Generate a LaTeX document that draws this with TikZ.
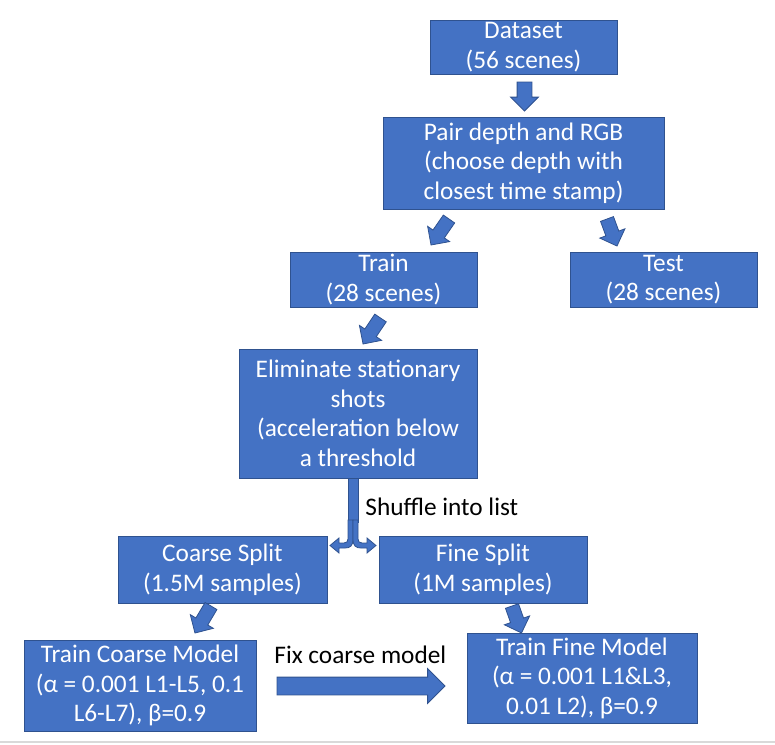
\documentclass[tikz,border=0pt]{standalone}
\usepackage{fontspec}
\setmainfont{Carlito}
\usetikzlibrary{shapes.arrows}
\definecolor{bfill}{HTML}{4472C4}
\definecolor{bdr}{HTML}{2F528F}
\begin{document}
\begin{tikzpicture}[x=1pt,y=-1pt,line width=0.8pt,
	box/.style={draw=bdr,fill=bfill,text=white,align=center,inner sep=0pt,outer sep=0pt,font=\fontsize{25.3}{29.5}\selectfont},
	barrow/.style={single arrow,draw=bdr,fill=bfill,inner xsep=0pt,inner ysep=6.5pt,outer sep=0pt,single arrow head extend=6.5pt,single arrow tip angle=90,anchor=tail},
	lbl/.style={font=\fontsize{25.3}{29.5}\selectfont,inner sep=0pt,anchor=base west}]
				\useasboundingbox (0,0) rectangle (775,744);
				\draw[color=black!15,line width=1.5pt] (0,742)--(775,742);
				% boxes
				\node[box,minimum width=187pt,minimum height=54pt] (dataset) at (523.5,47) {Dataset\\(56 scenes)};
				\node[box,minimum width=281pt,minimum height=92pt] (pair) at (523.5,163) {Pair depth and RGB\\(choose depth with\\closest time stamp)};
				\node[box,minimum width=187pt,minimum height=55pt] (train) at (383.5,279.5) {Train\\(28 scenes)};
				\node[box,minimum width=187pt,minimum height=55pt] (test) at (663.5,279.5) {Test\\(28 scenes)};
				\node[box,minimum width=238pt,minimum height=129pt] (elim) at (358,413.5) {Eliminate stationary\\shots\\(acceleration below\\a threshold};
				\node[box,minimum width=209pt,minimum height=67pt] (coarse) at (222.5,569.5) {Coarse Split\\(1.5M samples)};
				\node[box,minimum width=208pt,minimum height=67pt] (fine) at (483,569.5) {Fine Split\\(1M samples)};
				\node[box,minimum width=232pt,minimum height=91pt] (tcoarse) at (140,685.5) {Train Coarse Model\\(α = 0.001 L1-L5, 0.1\\L6-L7), β=0.9};
				\node[box,minimum width=230pt,minimum height=90pt] (tfine) at (582,678) {Train Fine Model\\(α = 0.001 L1\&L3,\\0.01 L2), β=0.9};
				% block arrows
				\node[barrow,inner ysep=7pt,rotate=-90,minimum height=29pt] (a1) at (524.5,82) {};
				\node[barrow,rotate=-124.7,minimum height=31.6pt] (a2) at (449,219) {};
				\node[barrow,rotate=-69.7,minimum height=28.8pt] (a3) at (607,219) {};
				\node[barrow,rotate=-123.9,minimum height=31.3pt] (a4) at (380.5,318) {};
				\node[barrow,rotate=-120.7,minimum height=31.4pt] (a5) at (211,606) {};
				\node[barrow,rotate=-70.6,minimum height=28.6pt] (a6) at (512,606) {};
				\node[barrow,inner ysep=8.5pt,single arrow head extend=8.5pt,minimum height=168pt] (a7) at (277,686) {};
				% split arrow
				\draw[draw=bdr,fill=bfill] (348,478) rectangle (358,522);
				\draw[draw=bdr,fill=bfill] (353,520)--(353,539) .. controls (353,546) and (350,548) .. (345,548)--(339,548)--(339,553)--(330,545.5)--(339,538)--(339,543)--(344,543) .. controls (346.5,543) and (348,541.5) .. (348,539)--(348,520)--cycle;
				\draw[draw=bdr,fill=bfill] (353,520)--(353,539) .. controls (353,546) and (356,548) .. (361,548)--(367,548)--(367,553)--(376,545.5)--(367,538)--(367,543)--(362,543) .. controls (359.5,543) and (358,541.5) .. (358,539)--(358,520)--cycle;
				% labels
				\node[lbl] (shuffle) at (365,515) {Shuffle into list};
				\node[lbl] (fix) at (274,663) {Fix coarse model};
			\end{tikzpicture}
\end{document}
